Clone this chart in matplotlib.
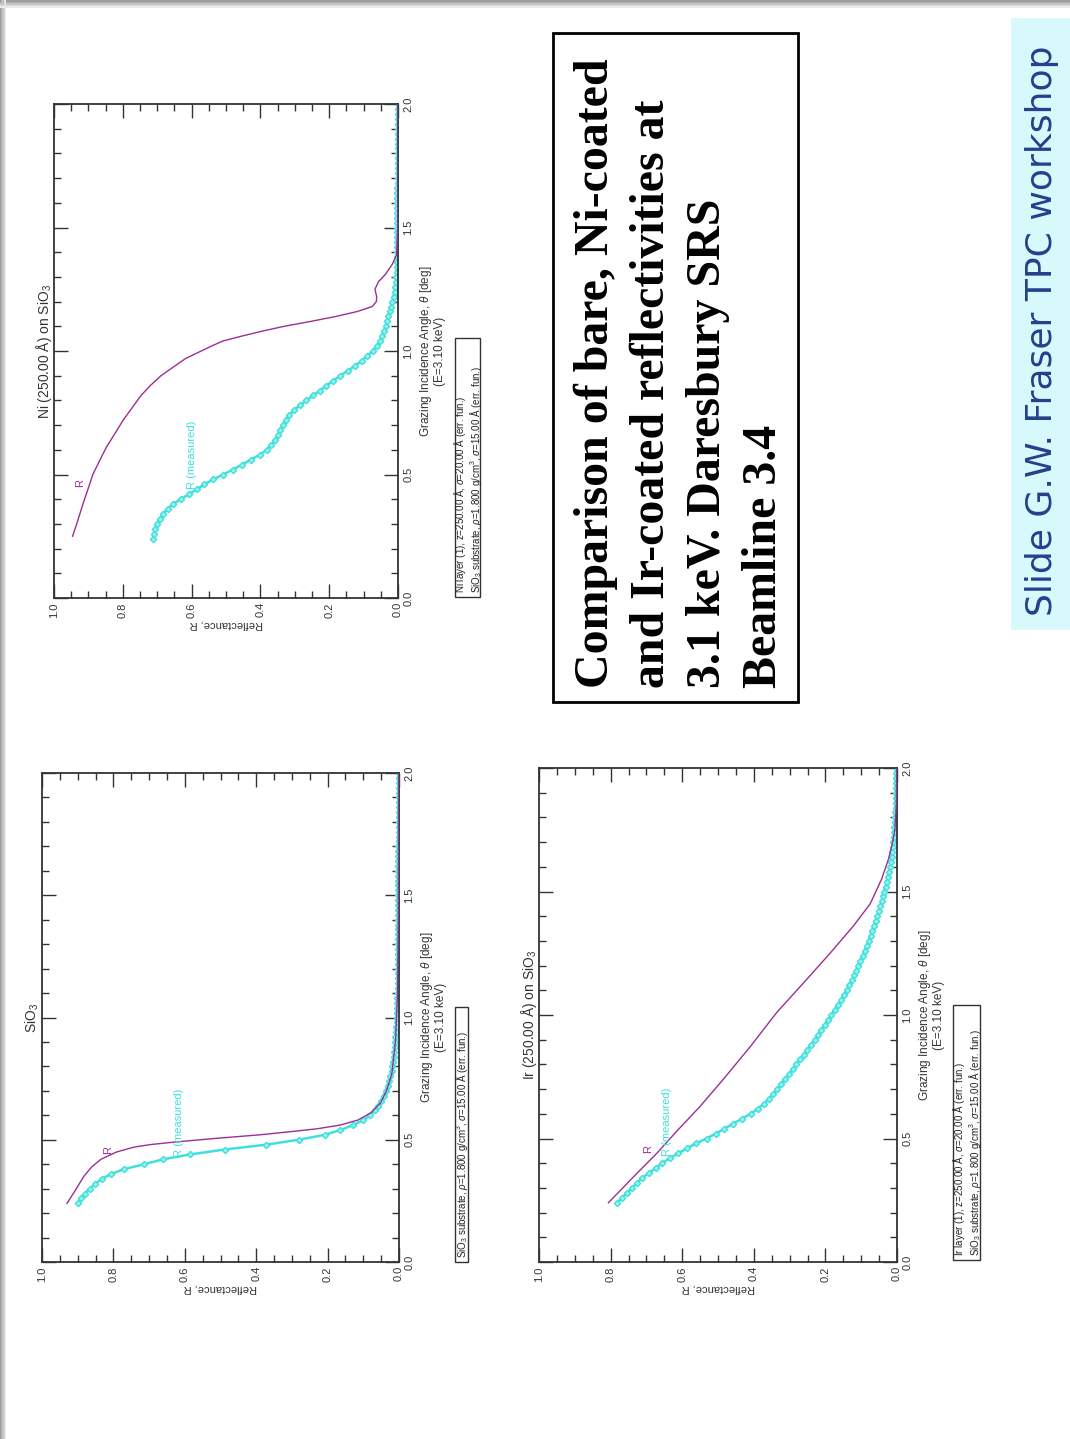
import numpy as np
import matplotlib
matplotlib.use("Agg")
from matplotlib import pyplot as plt
from matplotlib.patches import Rectangle
from matplotlib.ticker import MultipleLocator, FixedLocator

# ---- data ----
# measured points (one shared angle grid, deg)
theta_meas = [0.24, 0.26, 0.28, 0.30, 0.32, 0.34, 0.36, 0.38, 0.40, 0.42,
              0.44, 0.46, 0.48, 0.50, 0.52, 0.54, 0.56, 0.58, 0.60, 0.62,
              0.64, 0.66, 0.68, 0.70, 0.72, 0.74, 0.76, 0.78, 0.80, 0.82,
              0.84, 0.86, 0.88, 0.90, 0.92, 0.94, 0.96, 0.98, 1.00, 1.02,
              1.04, 1.06, 1.08, 1.10, 1.12, 1.14, 1.16, 1.18, 1.20, 1.22,
              1.24, 1.26, 1.28, 1.30, 1.32, 1.34, 1.36, 1.38, 1.40, 1.42,
              1.44, 1.46, 1.48, 1.50, 1.52, 1.54, 1.56, 1.58, 1.60, 1.62,
              1.64, 1.66, 1.68, 1.70, 1.72, 1.74, 1.76, 1.78, 1.80, 1.82,
              1.84, 1.86, 1.88, 1.90, 1.92, 1.94, 1.96, 1.98, 2.00]

ni_meas = [0.711, 0.710, 0.707, 0.702, 0.693, 0.683, 0.670, 0.654, 0.632, 0.608,
           0.585, 0.563, 0.537, 0.508, 0.480, 0.453, 0.428, 0.402, 0.382, 0.368,
           0.357, 0.349, 0.342, 0.335, 0.327, 0.317, 0.303, 0.285, 0.266, 0.247,
           0.227, 0.208, 0.188, 0.168, 0.146, 0.125, 0.106, 0.089, 0.074, 0.062,
           0.053, 0.046, 0.041, 0.036, 0.032, 0.028, 0.024, 0.020, 0.016, 0.013,
           0.010, 0.008, 0.006, 0.005, 0.004, 0.003, 0.003, 0.002, 0.002, 0.002,
           0.002, 0.002, 0.002, 0.002, 0.002, 0.002, 0.002, 0.002, 0.002, 0.002,
           0.002, 0.002, 0.001, 0.001, 0.001, 0.001, 0.001, 0.001, 0.001, 0.001,
           0.001, 0.001, 0.001, 0.001, 0.001, 0.001, 0.001, 0.001, 0.001]

sio_meas = [0.900, 0.891, 0.880, 0.866, 0.851, 0.832, 0.806, 0.770, 0.713, 0.661,
            0.585, 0.488, 0.372, 0.281, 0.208, 0.164, 0.128, 0.101, 0.080, 0.068,
            0.058, 0.050, 0.043, 0.037, 0.032, 0.028, 0.024, 0.021, 0.019, 0.017,
            0.015, 0.013, 0.012, 0.011, 0.010, 0.009, 0.008, 0.007, 0.006, 0.006,
            0.005, 0.005, 0.005, 0.004, 0.004, 0.004, 0.004, 0.003, 0.003, 0.003,
            0.003, 0.003, 0.003, 0.003, 0.002, 0.002, 0.002, 0.002, 0.002, 0.002,
            0.002, 0.002, 0.002, 0.002, 0.002, 0.002, 0.002, 0.002, 0.002, 0.002,
            0.002, 0.002, 0.002, 0.002, 0.001, 0.001, 0.001, 0.001, 0.001, 0.001,
            0.001, 0.001, 0.001, 0.001, 0.001, 0.001, 0.001, 0.001, 0.001]

ir_meas = [0.782, 0.768, 0.754, 0.740, 0.727, 0.712, 0.694, 0.674, 0.656, 0.635,
           0.611, 0.587, 0.561, 0.532, 0.506, 0.482, 0.458, 0.433, 0.409, 0.389,
           0.372, 0.358, 0.345, 0.334, 0.323, 0.312, 0.301, 0.291, 0.281, 0.271,
           0.261, 0.251, 0.240, 0.230, 0.220, 0.211, 0.201, 0.192, 0.183, 0.174,
           0.165, 0.157, 0.149, 0.141, 0.134, 0.127, 0.120, 0.114, 0.108, 0.102,
           0.096, 0.090, 0.084, 0.079, 0.074, 0.069, 0.064, 0.060, 0.055, 0.051,
           0.047, 0.043, 0.040, 0.036, 0.032, 0.029, 0.026, 0.023, 0.020, 0.017,
           0.015, 0.013, 0.012, 0.010, 0.009, 0.008, 0.007, 0.006, 0.005, 0.005,
           0.004, 0.004, 0.004, 0.003, 0.003, 0.003, 0.003, 0.002, 0.002]

# calculated reflectivity R (model)
ni_model_theta = [0.25, 0.30, 0.38, 0.45, 0.50, 0.56, 0.61, 0.67, 0.72, 0.77,
                  0.82, 0.86, 0.90, 0.94, 0.97, 1.00, 1.02, 1.04, 1.06, 1.08,
                  1.10, 1.12, 1.14, 1.16, 1.18, 1.20, 1.22, 1.25, 1.28, 1.31,
                  1.35, 1.39, 1.50, 1.70, 2.00]
ni_model_R = [0.946, 0.934, 0.916, 0.899, 0.887, 0.866, 0.848, 0.821, 0.799, 0.773,
              0.747, 0.720, 0.689, 0.648, 0.617, 0.572, 0.542, 0.510, 0.455, 0.396,
              0.331, 0.253, 0.180, 0.118, 0.075, 0.063, 0.062, 0.067, 0.057, 0.037,
              0.017, 0.004, 0.001, 0.0, 0.0]

sio_model_theta = [0.24, 0.29, 0.35, 0.39, 0.42, 0.45, 0.47, 0.48, 0.49, 0.505,
                   0.52, 0.535, 0.545, 0.56, 0.58, 0.61, 0.65, 0.70, 0.77, 0.90,
                   1.10, 1.40, 2.00]
sio_model_R = [0.930, 0.908, 0.883, 0.860, 0.835, 0.791, 0.742, 0.697, 0.633, 0.518,
               0.391, 0.291, 0.229, 0.165, 0.116, 0.079, 0.052, 0.035, 0.020, 0.010,
               0.004, 0.002, 0.001]

ir_model_theta = [0.24, 0.345, 0.44, 0.53, 0.63, 0.74, 0.87, 1.01, 1.13, 1.25,
                  1.36, 1.45, 1.55, 1.63, 1.70, 1.75, 1.85, 2.00]
ir_model_R = [0.806, 0.736, 0.671, 0.615, 0.550, 0.485, 0.411, 0.336, 0.261, 0.187,
              0.122, 0.075, 0.043, 0.024, 0.012, 0.006, 0.002, 0.001]

refl_ticks = [0.0, 0.2, 0.4, 0.6, 0.8, 1.0]
angle_ticks = [0.0, 0.5, 1.0, 1.5, 2.0]

sub_line = r"SiO$_3$ substrate, $\rho$=1.800 g/cm$^3$, $\sigma$=15.00 $\mathrm{\AA}$ (err. fun.)"
ni_line = r"Ni layer (1), z=250.00 $\mathrm{\AA}$, $\sigma$=20.00 $\mathrm{\AA}$ (err. fun.)"
ir_line = r"Ir layer (1), z=250.00 $\mathrm{\AA}$, $\sigma$=20.00 $\mathrm{\AA}$ (err. fun.)"

title_lines = ["Comparison of bare, Ni-coated",
               "and Ir-coated reflectivities at",
               "3.1 keV. Daresbury SRS",
               "Beamline 3.4"]
side_note = "Slide G.W. Fraser TPC workshop"

# ---- layout (pixels) ----
W, H = 1070, 1439
PURPLE = "#9a2f96"
CYAN = "#3ee0dc"

plt.rcParams['font.family'] = ['Liberation Sans', 'DejaVu Sans']
plt.rcParams['mathtext.fontset'] = 'custom'
plt.rcParams['mathtext.rm'] = 'Liberation Sans'
plt.rcParams['mathtext.it'] = 'Liberation Sans:italic'

fig = plt.figure(figsize=(W / 100, H / 100), dpi=100)
fig.patch.set_facecolor("white")


def fx(x):
    return x / W


def fy(y):
    return 1 - y / H


def ftext(x, y, s, **kw):
    return fig.text(fx(x), fy(y), s, **kw)


def frect(x0, y0, x1, y1, **kw):
    r = Rectangle((fx(x0), fy(y1)), (x1 - x0) / W, (y1 - y0) / H,
                  transform=fig.transFigure, **kw)
    fig.add_artist(r)
    return r


def panel(box, title, model_t, model_r, meas_r, lab_r, lab_m, info, info_box):
    x0, y0, x1, y1 = box
    ax = fig.add_axes([fx(x0), fy(y1), (x1 - x0) / W, (y1 - y0) / H])
    ax.plot(meas_r, theta_meas, '-', color=CYAN, lw=1.8, marker='D', ms=3.2,
            mfc="#9af2ee", mec=CYAN, mew=1.0, zorder=2)
    ax.plot(model_r, model_t, '-', color=PURPLE, lw=1.0, zorder=3)
    ax.set_xlim(1.0, 0.0)
    ax.set_ylim(0.0, 2.0)
    ax.xaxis.set_major_locator(FixedLocator(refl_ticks))
    ax.xaxis.set_minor_locator(MultipleLocator(0.05))
    ax.yaxis.set_major_locator(FixedLocator(angle_ticks))
    ax.yaxis.set_minor_locator(MultipleLocator(0.1))
    ax.set_xticklabels([f"{v:.1f}" for v in refl_ticks])
    ax.set_yticklabels([f"{v:.1f}" for v in angle_ticks])
    ax.tick_params(which='both', direction='in', top=True, bottom=True,
                   left=True, right=True, labelleft=False, labelright=True,
                   color="#333333", width=1.0, labelsize=8, labelcolor="#333333")
    ax.tick_params(which='major', length=10)
    ax.tick_params(which='minor', length=5)
    ax.tick_params(axis='x', labelrotation=90, pad=3)
    ax.tick_params(axis='y', labelrotation=90, pad=4)
    for lb in ax.get_yticklabels():
        lb.set_va('center')
    for sp in ax.spines.values():
        sp.set_color("#333333")
        sp.set_linewidth(1.3)

    # in-plot labels
    ax.text(lab_r[0], lab_r[1], "R", color=PURPLE, fontsize=8, rotation=90,
            ha='center', va='bottom')
    ax.text(lab_m[0], lab_m[1], "R (measured)", color=CYAN, fontsize=8,
            rotation=90, ha='center', va='bottom')

    xm = (y0 + y1) / 2
    # title, left of the plot
    ftext(x0 - 10, xm, title, rotation=90, ha='center', va='center',
          fontsize=10, color="#333333")
    # angle axis label
    ftext(x1 + 34, xm, "Grazing Incidence Angle, $\\theta$ [deg]\n(E=3.10 keV)",
          rotation=90, ha='center', va='center', multialignment='center',
          linespacing=0.95, fontsize=8.5, color="#333333")
    # reflectance axis label (upside down on the turned page)
    ftext((x0 + x1) / 2, y1 + 26, "Reflectance, R", rotation=180,
          ha='center', va='center', fontsize=8, color="#333333")
    # info box
    bx0, by0, bx1, by1 = info_box
    frect(bx0, by0, bx1, by1, fill=False, ec="#333333", lw=1.0)
    ftext((bx0 + bx1) / 2 + 0.5, by1 - 4, "\n".join(info), rotation=90,
          ha='center', va='bottom', multialignment='left', linespacing=0.95,
          fontsize=7.0, color="#222222")
    return ax


panel((54, 104, 398, 598), r"Ni (250.00 $\mathrm{\AA}$) on SiO$_3$",
      ni_model_theta, ni_model_R, ni_meas,
      (0.925, 0.45), (0.60, 0.44), [ni_line, sub_line], (455, 338, 480, 597))

panel((42, 773, 399, 1262), r"SiO$_3$",
      sio_model_theta, sio_model_R, sio_meas,
      (0.815, 0.44), (0.615, 0.43), [sub_line], (455, 1007, 468, 1262))

panel((539, 768, 897, 1262), r"Ir (250.00 $\mathrm{\AA}$) on SiO$_3$",
      ir_model_theta, ir_model_R, ir_meas,
      (0.695, 0.44), (0.643, 0.43), [ir_line, sub_line], (953, 1005, 980, 1260))

# big title box
frect(553, 33, 798, 702, fill=False, ec="black", lw=2.0)
for i, line in enumerate(title_lines):
    ftext(596 + 56 * i, 688, line, rotation=90, ha='center', va='bottom',
          fontsize=34.5, fontweight='bold', family='Liberation Serif', color='black')

# side note
frect(1011, 18, 1070, 630, fc="#d8f9fc", ec="none")
ftext(1042, 616, side_note, rotation=90, ha='center', va='bottom',
      fontsize=26, family='DejaVu Sans', color="#22408c")

# page shadow at top and left edge
for i, g in enumerate(["#9c9c9c", "#b0b0b0", "#c4c4c4", "#d8d8d8", "#eaeaea"]):
    frect(0, i * 1.5, W, (i + 1) * 1.5, fc=g, ec="none")
    frect(i * 1.2, 0, (i + 1) * 1.2, H, fc=g, ec="none")

fig.savefig("out.png", dpi=100)
